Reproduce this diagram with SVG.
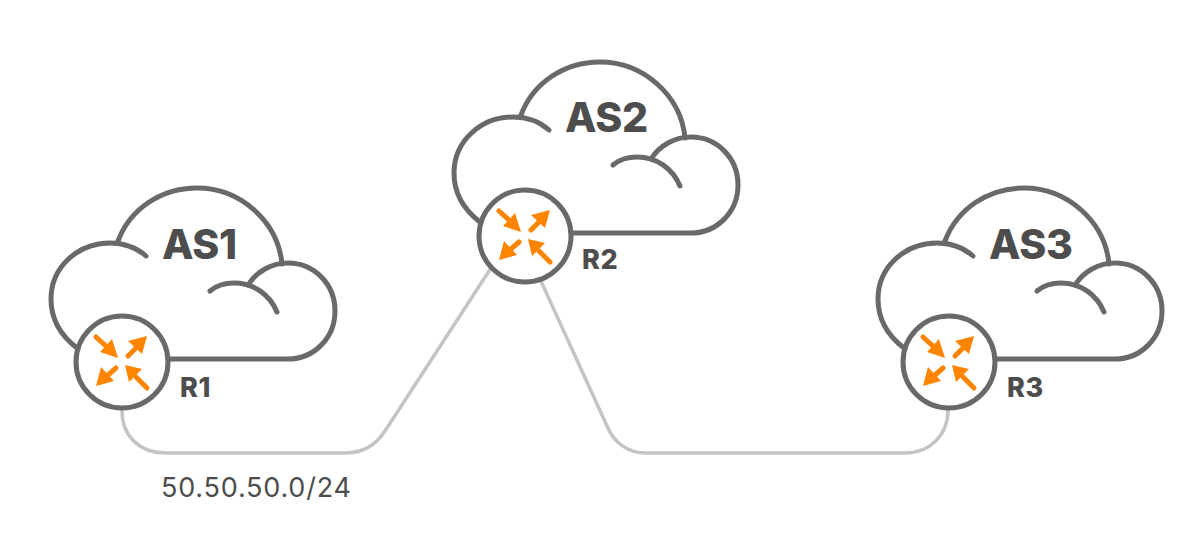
<svg xmlns="http://www.w3.org/2000/svg" width="1200" height="554" viewBox="0 0 1200 554">
<style>
.cl{fill:none;stroke:#696969;stroke-width:5;stroke-linecap:round;stroke-linejoin:round}
.ro{fill:#fff;stroke:#696969;stroke-width:5}
.ar{fill:#ff8500}
.as{stroke:#ff8500;stroke-width:5;stroke-linecap:round;fill:none}
.link{fill:none;stroke:#c4c4c4;stroke-width:3.5}
text{font-family:Inter,"Liberation Sans",sans-serif;fill:#4d4d4d}
.t1{font-size:41px;font-weight:800;letter-spacing:-.4px}
.t2{font-size:27px;font-weight:800;letter-spacing:.5px}
.t3{font-size:27px;font-weight:400;letter-spacing:.8px}
</style>
<defs>
<g id="cloud">
<path class="cl" d="M77 348C60 335 51 318 51 299C51 267 78 243 110 243C124 243 137 248 146 256"/>
<path class="cl" d="M118 241C130 209 161 188 197 188C241 188 278 222 282 264"/>
<path class="cl" d="M248 285C257 271 272 263 288 263C314 263 335 284 335 311C335 338 314 359 288 359H168"/>
<path class="cl" d="M210 291C217 285 226 283 234 283C254 283 270 295 277 312"/>
</g>
<g id="router">
<circle class="ro" cx="122" cy="362" r="46"/>
<path class="as" d="M96 337L107 347M147 388L136 377M128 356L136 348M116 368L108 375"/>
<path class="ar" d="M118 358L100 352L112 339ZM125 365L142 369L129 382ZM147 336L142 354L128 341ZM96 386L101 367L114 381Z"/>
</g>
</defs>
<g id="connectors">
<path class="link" d="M122 408V411C122 436 140 453 165 453H345C362 453 376 445 385 431L491 268"/>
<path class="link" d="M540 279L607 426C614 443 628 453 646 453H905C930 453 948 435 948 410"/>
</g>
<g id="as1"><use href="#cloud"/><text class="t1" x="162" y="259">AS1</text></g>
<g id="as2"><use href="#cloud" x="403" y="-126"/><text class="t1" x="565" y="132">AS2</text></g>
<g id="as3"><use href="#cloud" x="827"/><text class="t1" x="989" y="259">AS3</text></g>
<g id="r1"><use href="#router"/><text class="t2" x="180" y="397">R1</text></g>
<g id="r2"><use href="#router" x="403" y="-126"/><text class="t2" x="582" y="269">R2</text></g>
<g id="r3"><use href="#router" x="827"/><text class="t2" x="1007" y="397">R3</text></g>
<text class="t3" x="161" y="497">50.50.50.0/24</text>
</svg>
